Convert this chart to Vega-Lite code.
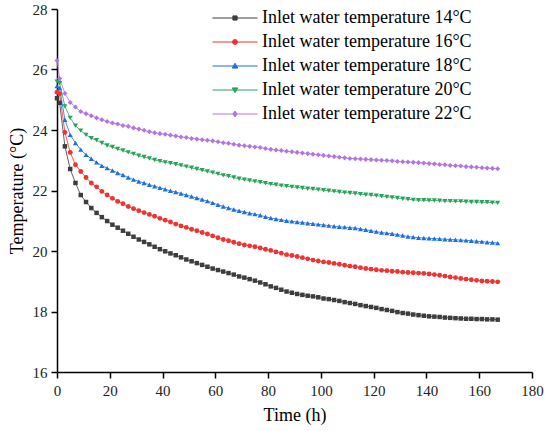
{
  "$schema": "https://vega.github.io/schema/vega-lite/v6.json",
  "width": 475,
  "height": 363,
  "autosize": {"type": "none"},
  "padding": {"left": 57, "top": 9, "right": 18, "bottom": 59},
  "background": "white",
  "config": {
    "view": {"stroke": null},
    "font": "Liberation Serif",
    "axis": {
      "grid": false,
      "domainColor": "black",
      "domainWidth": 1.5,
      "tickColor": "black",
      "tickWidth": 1.5,
      "tickSize": 6,
      "labelFont": "Liberation Serif",
      "labelFontSize": 15,
      "labelColor": "#222222",
      "labelFlush": false,
      "titleFont": "Liberation Serif",
      "titleFontSize": 18,
      "titleFontWeight": "normal",
      "titleColor": "black"
    }
  },
  "data": {
    "values": [
      {"t":0,"s":14,"v":25.05},{"t":1,"s":14,"v":24.9},{"t":3,"s":14,"v":23.46},{"t":5,"s":14,"v":22.71},{"t":7,"s":14,"v":22.25},{"t":9,"s":14,"v":21.85},{"t":11,"s":14,"v":21.62},{"t":13,"s":14,"v":21.42},{"t":15,"s":14,"v":21.26},{"t":17,"s":14,"v":21.12},{"t":19,"s":14,"v":20.99},{"t":21,"s":14,"v":20.87},{"t":23,"s":14,"v":20.77},{"t":25,"s":14,"v":20.67},{"t":27,"s":14,"v":20.57},{"t":29,"s":14,"v":20.47},{"t":31,"s":14,"v":20.38},{"t":33,"s":14,"v":20.30},{"t":35,"s":14,"v":20.22},{"t":37,"s":14,"v":20.14},{"t":39,"s":14,"v":20.06},{"t":41,"s":14,"v":19.99},{"t":43,"s":14,"v":19.92},{"t":45,"s":14,"v":19.86},{"t":47,"s":14,"v":19.79},{"t":49,"s":14,"v":19.72},{"t":51,"s":14,"v":19.66},{"t":53,"s":14,"v":19.60},{"t":55,"s":14,"v":19.54},{"t":57,"s":14,"v":19.48},{"t":59,"s":14,"v":19.42},{"t":61,"s":14,"v":19.37},{"t":63,"s":14,"v":19.32},{"t":65,"s":14,"v":19.27},{"t":67,"s":14,"v":19.22},{"t":69,"s":14,"v":19.16},{"t":71,"s":14,"v":19.12},{"t":73,"s":14,"v":19.07},{"t":75,"s":14,"v":19.02},{"t":77,"s":14,"v":18.96},{"t":79,"s":14,"v":18.90},{"t":81,"s":14,"v":18.83},{"t":83,"s":14,"v":18.78},{"t":85,"s":14,"v":18.72},{"t":87,"s":14,"v":18.66},{"t":89,"s":14,"v":18.62},{"t":91,"s":14,"v":18.58},{"t":93,"s":14,"v":18.55},{"t":95,"s":14,"v":18.52},{"t":97,"s":14,"v":18.50},{"t":99,"s":14,"v":18.47},{"t":101,"s":14,"v":18.43},{"t":103,"s":14,"v":18.41},{"t":105,"s":14,"v":18.38},{"t":107,"s":14,"v":18.35},{"t":109,"s":14,"v":18.31},{"t":111,"s":14,"v":18.28},{"t":113,"s":14,"v":18.25},{"t":115,"s":14,"v":18.21},{"t":117,"s":14,"v":18.18},{"t":119,"s":14,"v":18.15},{"t":121,"s":14,"v":18.12},{"t":123,"s":14,"v":18.08},{"t":125,"s":14,"v":18.05},{"t":127,"s":14,"v":18.02},{"t":129,"s":14,"v":17.98},{"t":131,"s":14,"v":17.95},{"t":133,"s":14,"v":17.93},{"t":135,"s":14,"v":17.90},{"t":137,"s":14,"v":17.88},{"t":139,"s":14,"v":17.86},{"t":141,"s":14,"v":17.84},{"t":143,"s":14,"v":17.83},{"t":145,"s":14,"v":17.82},{"t":147,"s":14,"v":17.80},{"t":149,"s":14,"v":17.79},{"t":151,"s":14,"v":17.78},{"t":153,"s":14,"v":17.77},{"t":155,"s":14,"v":17.76},{"t":157,"s":14,"v":17.76},{"t":159,"s":14,"v":17.75},{"t":161,"s":14,"v":17.75},{"t":163,"s":14,"v":17.74},{"t":165,"s":14,"v":17.74},{"t":167,"s":14,"v":17.73},
      {"t":0,"s":16,"v":25.25},{"t":1,"s":16,"v":25.2},{"t":3,"s":16,"v":23.92},{"t":5,"s":16,"v":23.26},{"t":7,"s":16,"v":22.85},{"t":9,"s":16,"v":22.63},{"t":11,"s":16,"v":22.43},{"t":13,"s":16,"v":22.25},{"t":15,"s":16,"v":22.12},{"t":17,"s":16,"v":21.97},{"t":19,"s":16,"v":21.85},{"t":21,"s":16,"v":21.74},{"t":23,"s":16,"v":21.64},{"t":25,"s":16,"v":21.56},{"t":27,"s":16,"v":21.47},{"t":29,"s":16,"v":21.40},{"t":31,"s":16,"v":21.33},{"t":33,"s":16,"v":21.27},{"t":35,"s":16,"v":21.21},{"t":37,"s":16,"v":21.15},{"t":39,"s":16,"v":21.08},{"t":41,"s":16,"v":21.02},{"t":43,"s":16,"v":20.96},{"t":45,"s":16,"v":20.89},{"t":47,"s":16,"v":20.83},{"t":49,"s":16,"v":20.78},{"t":51,"s":16,"v":20.72},{"t":53,"s":16,"v":20.67},{"t":55,"s":16,"v":20.61},{"t":57,"s":16,"v":20.56},{"t":59,"s":16,"v":20.50},{"t":61,"s":16,"v":20.44},{"t":63,"s":16,"v":20.38},{"t":65,"s":16,"v":20.34},{"t":67,"s":16,"v":20.29},{"t":69,"s":16,"v":20.24},{"t":71,"s":16,"v":20.20},{"t":73,"s":16,"v":20.17},{"t":75,"s":16,"v":20.14},{"t":77,"s":16,"v":20.10},{"t":79,"s":16,"v":20.06},{"t":81,"s":16,"v":20.02},{"t":83,"s":16,"v":19.97},{"t":85,"s":16,"v":19.93},{"t":87,"s":16,"v":19.88},{"t":89,"s":16,"v":19.85},{"t":91,"s":16,"v":19.82},{"t":93,"s":16,"v":19.78},{"t":95,"s":16,"v":19.74},{"t":97,"s":16,"v":19.70},{"t":99,"s":16,"v":19.67},{"t":101,"s":16,"v":19.64},{"t":103,"s":16,"v":19.62},{"t":105,"s":16,"v":19.59},{"t":107,"s":16,"v":19.56},{"t":109,"s":16,"v":19.53},{"t":111,"s":16,"v":19.50},{"t":113,"s":16,"v":19.48},{"t":115,"s":16,"v":19.45},{"t":117,"s":16,"v":19.42},{"t":119,"s":16,"v":19.40},{"t":121,"s":16,"v":19.38},{"t":123,"s":16,"v":19.36},{"t":125,"s":16,"v":19.35},{"t":127,"s":16,"v":19.33},{"t":129,"s":16,"v":19.32},{"t":131,"s":16,"v":19.30},{"t":133,"s":16,"v":19.29},{"t":135,"s":16,"v":19.28},{"t":137,"s":16,"v":19.27},{"t":139,"s":16,"v":19.26},{"t":141,"s":16,"v":19.24},{"t":143,"s":16,"v":19.22},{"t":145,"s":16,"v":19.20},{"t":147,"s":16,"v":19.17},{"t":149,"s":16,"v":19.14},{"t":151,"s":16,"v":19.12},{"t":153,"s":16,"v":19.09},{"t":155,"s":16,"v":19.07},{"t":157,"s":16,"v":19.05},{"t":159,"s":16,"v":19.03},{"t":161,"s":16,"v":19.01},{"t":163,"s":16,"v":19.00},{"t":165,"s":16,"v":18.99},{"t":167,"s":16,"v":18.98},
      {"t":0,"s":18,"v":25.45},{"t":1,"s":18,"v":25.39},{"t":3,"s":18,"v":24.34},{"t":5,"s":18,"v":23.84},{"t":7,"s":18,"v":23.57},{"t":9,"s":18,"v":23.35},{"t":11,"s":18,"v":23.18},{"t":13,"s":18,"v":23.05},{"t":15,"s":18,"v":22.93},{"t":17,"s":18,"v":22.82},{"t":19,"s":18,"v":22.74},{"t":21,"s":18,"v":22.66},{"t":23,"s":18,"v":22.58},{"t":25,"s":18,"v":22.51},{"t":27,"s":18,"v":22.43},{"t":29,"s":18,"v":22.36},{"t":31,"s":18,"v":22.30},{"t":33,"s":18,"v":22.25},{"t":35,"s":18,"v":22.19},{"t":37,"s":18,"v":22.14},{"t":39,"s":18,"v":22.09},{"t":41,"s":18,"v":22.04},{"t":43,"s":18,"v":21.99},{"t":45,"s":18,"v":21.95},{"t":47,"s":18,"v":21.90},{"t":49,"s":18,"v":21.85},{"t":51,"s":18,"v":21.80},{"t":53,"s":18,"v":21.75},{"t":55,"s":18,"v":21.70},{"t":57,"s":18,"v":21.65},{"t":59,"s":18,"v":21.59},{"t":61,"s":18,"v":21.53},{"t":63,"s":18,"v":21.47},{"t":65,"s":18,"v":21.42},{"t":67,"s":18,"v":21.37},{"t":69,"s":18,"v":21.33},{"t":71,"s":18,"v":21.29},{"t":73,"s":18,"v":21.25},{"t":75,"s":18,"v":21.22},{"t":77,"s":18,"v":21.18},{"t":79,"s":18,"v":21.13},{"t":81,"s":18,"v":21.09},{"t":83,"s":18,"v":21.06},{"t":85,"s":18,"v":21.03},{"t":87,"s":18,"v":21.00},{"t":89,"s":18,"v":20.98},{"t":91,"s":18,"v":20.96},{"t":93,"s":18,"v":20.94},{"t":95,"s":18,"v":20.92},{"t":97,"s":18,"v":20.90},{"t":99,"s":18,"v":20.88},{"t":101,"s":18,"v":20.86},{"t":103,"s":18,"v":20.84},{"t":105,"s":18,"v":20.82},{"t":107,"s":18,"v":20.80},{"t":109,"s":18,"v":20.79},{"t":111,"s":18,"v":20.77},{"t":113,"s":18,"v":20.76},{"t":115,"s":18,"v":20.73},{"t":117,"s":18,"v":20.70},{"t":119,"s":18,"v":20.67},{"t":121,"s":18,"v":20.64},{"t":123,"s":18,"v":20.61},{"t":125,"s":18,"v":20.59},{"t":127,"s":18,"v":20.57},{"t":129,"s":18,"v":20.54},{"t":131,"s":18,"v":20.51},{"t":133,"s":18,"v":20.48},{"t":135,"s":18,"v":20.46},{"t":137,"s":18,"v":20.44},{"t":139,"s":18,"v":20.43},{"t":141,"s":18,"v":20.42},{"t":143,"s":18,"v":20.41},{"t":145,"s":18,"v":20.40},{"t":147,"s":18,"v":20.39},{"t":149,"s":18,"v":20.38},{"t":151,"s":18,"v":20.37},{"t":153,"s":18,"v":20.36},{"t":155,"s":18,"v":20.35},{"t":157,"s":18,"v":20.34},{"t":159,"s":18,"v":20.32},{"t":161,"s":18,"v":20.31},{"t":163,"s":18,"v":20.29},{"t":165,"s":18,"v":20.28},{"t":167,"s":18,"v":20.26},
      {"t":0,"s":20,"v":25.6},{"t":1,"s":20,"v":25.55},{"t":3,"s":20,"v":24.78},{"t":5,"s":20,"v":24.40},{"t":7,"s":20,"v":24.14},{"t":9,"s":20,"v":23.98},{"t":11,"s":20,"v":23.84},{"t":13,"s":20,"v":23.73},{"t":15,"s":20,"v":23.66},{"t":17,"s":20,"v":23.57},{"t":19,"s":20,"v":23.49},{"t":21,"s":20,"v":23.44},{"t":23,"s":20,"v":23.37},{"t":25,"s":20,"v":23.32},{"t":27,"s":20,"v":23.26},{"t":29,"s":20,"v":23.21},{"t":31,"s":20,"v":23.15},{"t":33,"s":20,"v":23.11},{"t":35,"s":20,"v":23.06},{"t":37,"s":20,"v":23.01},{"t":39,"s":20,"v":22.97},{"t":41,"s":20,"v":22.93},{"t":43,"s":20,"v":22.90},{"t":45,"s":20,"v":22.87},{"t":47,"s":20,"v":22.83},{"t":49,"s":20,"v":22.79},{"t":51,"s":20,"v":22.75},{"t":53,"s":20,"v":22.71},{"t":55,"s":20,"v":22.67},{"t":57,"s":20,"v":22.63},{"t":59,"s":20,"v":22.59},{"t":61,"s":20,"v":22.55},{"t":63,"s":20,"v":22.50},{"t":65,"s":20,"v":22.47},{"t":67,"s":20,"v":22.43},{"t":69,"s":20,"v":22.39},{"t":71,"s":20,"v":22.36},{"t":73,"s":20,"v":22.33},{"t":75,"s":20,"v":22.30},{"t":77,"s":20,"v":22.27},{"t":79,"s":20,"v":22.24},{"t":81,"s":20,"v":22.21},{"t":83,"s":20,"v":22.19},{"t":85,"s":20,"v":22.16},{"t":87,"s":20,"v":22.14},{"t":89,"s":20,"v":22.12},{"t":91,"s":20,"v":22.10},{"t":93,"s":20,"v":22.08},{"t":95,"s":20,"v":22.06},{"t":97,"s":20,"v":22.05},{"t":99,"s":20,"v":22.03},{"t":101,"s":20,"v":22.01},{"t":103,"s":20,"v":21.99},{"t":105,"s":20,"v":21.97},{"t":107,"s":20,"v":21.95},{"t":109,"s":20,"v":21.93},{"t":111,"s":20,"v":21.92},{"t":113,"s":20,"v":21.90},{"t":115,"s":20,"v":21.88},{"t":117,"s":20,"v":21.86},{"t":119,"s":20,"v":21.85},{"t":121,"s":20,"v":21.83},{"t":123,"s":20,"v":21.81},{"t":125,"s":20,"v":21.79},{"t":127,"s":20,"v":21.77},{"t":129,"s":20,"v":21.75},{"t":131,"s":20,"v":21.73},{"t":133,"s":20,"v":21.71},{"t":135,"s":20,"v":21.69},{"t":137,"s":20,"v":21.68},{"t":139,"s":20,"v":21.68},{"t":141,"s":20,"v":21.67},{"t":143,"s":20,"v":21.67},{"t":145,"s":20,"v":21.66},{"t":147,"s":20,"v":21.65},{"t":149,"s":20,"v":21.65},{"t":151,"s":20,"v":21.64},{"t":153,"s":20,"v":21.64},{"t":155,"s":20,"v":21.63},{"t":157,"s":20,"v":21.62},{"t":159,"s":20,"v":21.62},{"t":161,"s":20,"v":21.61},{"t":163,"s":20,"v":21.61},{"t":165,"s":20,"v":21.60},{"t":167,"s":20,"v":21.59},
      {"t":0,"s":22,"v":26.3},{"t":1,"s":22,"v":25.7},{"t":3,"s":22,"v":25.21},{"t":5,"s":22,"v":24.91},{"t":7,"s":22,"v":24.76},{"t":9,"s":22,"v":24.61},{"t":11,"s":22,"v":24.54},{"t":13,"s":22,"v":24.47},{"t":15,"s":22,"v":24.40},{"t":17,"s":22,"v":24.34},{"t":19,"s":22,"v":24.28},{"t":21,"s":22,"v":24.23},{"t":23,"s":22,"v":24.20},{"t":25,"s":22,"v":24.15},{"t":27,"s":22,"v":24.12},{"t":29,"s":22,"v":24.07},{"t":31,"s":22,"v":24.03},{"t":33,"s":22,"v":23.99},{"t":35,"s":22,"v":23.94},{"t":37,"s":22,"v":23.91},{"t":39,"s":22,"v":23.88},{"t":41,"s":22,"v":23.86},{"t":43,"s":22,"v":23.83},{"t":45,"s":22,"v":23.80},{"t":47,"s":22,"v":23.77},{"t":49,"s":22,"v":23.75},{"t":51,"s":22,"v":23.72},{"t":53,"s":22,"v":23.70},{"t":55,"s":22,"v":23.68},{"t":57,"s":22,"v":23.66},{"t":59,"s":22,"v":23.64},{"t":61,"s":22,"v":23.61},{"t":63,"s":22,"v":23.58},{"t":65,"s":22,"v":23.56},{"t":67,"s":22,"v":23.53},{"t":69,"s":22,"v":23.50},{"t":71,"s":22,"v":23.48},{"t":73,"s":22,"v":23.46},{"t":75,"s":22,"v":23.44},{"t":77,"s":22,"v":23.42},{"t":79,"s":22,"v":23.39},{"t":81,"s":22,"v":23.36},{"t":83,"s":22,"v":23.34},{"t":85,"s":22,"v":23.32},{"t":87,"s":22,"v":23.30},{"t":89,"s":22,"v":23.28},{"t":91,"s":22,"v":23.26},{"t":93,"s":22,"v":23.24},{"t":95,"s":22,"v":23.22},{"t":97,"s":22,"v":23.20},{"t":99,"s":22,"v":23.18},{"t":101,"s":22,"v":23.16},{"t":103,"s":22,"v":23.14},{"t":105,"s":22,"v":23.12},{"t":107,"s":22,"v":23.10},{"t":109,"s":22,"v":23.08},{"t":111,"s":22,"v":23.06},{"t":113,"s":22,"v":23.05},{"t":115,"s":22,"v":23.04},{"t":117,"s":22,"v":23.03},{"t":119,"s":22,"v":23.02},{"t":121,"s":22,"v":23.01},{"t":123,"s":22,"v":23.00},{"t":125,"s":22,"v":22.99},{"t":127,"s":22,"v":22.98},{"t":129,"s":22,"v":22.96},{"t":131,"s":22,"v":22.95},{"t":133,"s":22,"v":22.94},{"t":135,"s":22,"v":22.93},{"t":137,"s":22,"v":22.92},{"t":139,"s":22,"v":22.91},{"t":141,"s":22,"v":22.89},{"t":143,"s":22,"v":22.88},{"t":145,"s":22,"v":22.86},{"t":147,"s":22,"v":22.85},{"t":149,"s":22,"v":22.83},{"t":151,"s":22,"v":22.82},{"t":153,"s":22,"v":22.81},{"t":155,"s":22,"v":22.79},{"t":157,"s":22,"v":22.78},{"t":159,"s":22,"v":22.77},{"t":161,"s":22,"v":22.75},{"t":163,"s":22,"v":22.74},{"t":165,"s":22,"v":22.73},{"t":167,"s":22,"v":22.72}
    ]
  },
  "encoding": {
    "x": {
      "field": "t",
      "type": "quantitative",
      "scale": {"domain": [0, 180]},
      "axis": {
        "title": "Time (h)",
        "values": [0, 20, 40, 60, 80, 100, 120, 140, 160, 180],
        "labelFont": "Liberation Serif",
        "titleFont": "Liberation Serif",
        "labelPadding": 5,
        "titlePadding": 8
      }
    },
    "y": {
      "field": "v",
      "type": "quantitative",
      "scale": {"domain": [16, 28]},
      "axis": {
        "title": "Temperature (°C)",
        "values": [16, 18, 20, 22, 24, 26, 28],
        "labelFont": "Liberation Serif",
        "titleFont": "Liberation Serif",
        "labelPadding": 4,
        "titlePadding": 6
      }
    },
    "color": {
      "field": "s",
      "type": "nominal",
      "scale": {
        "domain": [14, 16, 18, 20, 22],
        "range": ["#3d3d3d", "#ee3333", "#1c6fe3", "#27a35c", "#b374e3"]
      },
      "legend": {
        "orient": "none",
        "legendX": 169,
        "legendY": 0,
        "title": null,
        "padding": 0,
        "labelFont": "Liberation Serif",
        "labelFontSize": 18,
        "labelColor": "black",
        "labelLimit": 320,
        "labelOffset": 18,
        "symbolSize": 100,
        "rowPadding": 6,
        "symbolOpacity": 1,
        "symbolStrokeWidth": 1,
        "symbolStrokeColor": {"expr": "scale('color', datum.value)"},
        "symbolType": {"expr": "datum.value == 14 ? 'M-4.5,0H4.5M-0.42,-0.42H0.42V0.42H-0.42Z' : datum.value == 16 ? 'M-4.5,0H4.5M-0.5,0A0.5,0.5,0,1,0,0.5,0A0.5,0.5,0,1,0,-0.5,0Z' : datum.value == 18 ? 'M-4.5,0H4.5M0,-0.55L0.55,0.42H-0.55Z' : datum.value == 20 ? 'M-4.5,0H4.5M0,0.55L0.55,-0.42H-0.55Z' : 'M-4.5,0H4.5M0,-0.6L0.42,0L0,0.6L-0.42,0Z'"},
        "labelExpr": "'Inlet water temperature ' + datum.label + '°C'"
      }
    }
  },
  "layer": [
    {"mark": {"type": "line", "strokeWidth": 1, "opacity": 0.8}},
    {"transform": [{"filter": "datum.s == 14"}], "mark": {"type": "point", "shape": "square", "filled": true, "opacity": 1, "size": 20}},
    {"transform": [{"filter": "datum.s == 16"}], "mark": {"type": "point", "shape": "circle", "filled": true, "opacity": 1, "size": 24}},
    {"transform": [{"filter": "datum.s == 18"}], "mark": {"type": "point", "shape": "triangle-up", "filled": true, "opacity": 1, "size": 26}},
    {"transform": [{"filter": "datum.s == 20"}], "mark": {"type": "point", "shape": "triangle-down", "filled": true, "opacity": 1, "size": 26}},
    {"transform": [{"filter": "datum.s == 22"}], "mark": {"type": "point", "shape": "diamond", "filled": true, "opacity": 1, "size": 26}}
  ]
}
